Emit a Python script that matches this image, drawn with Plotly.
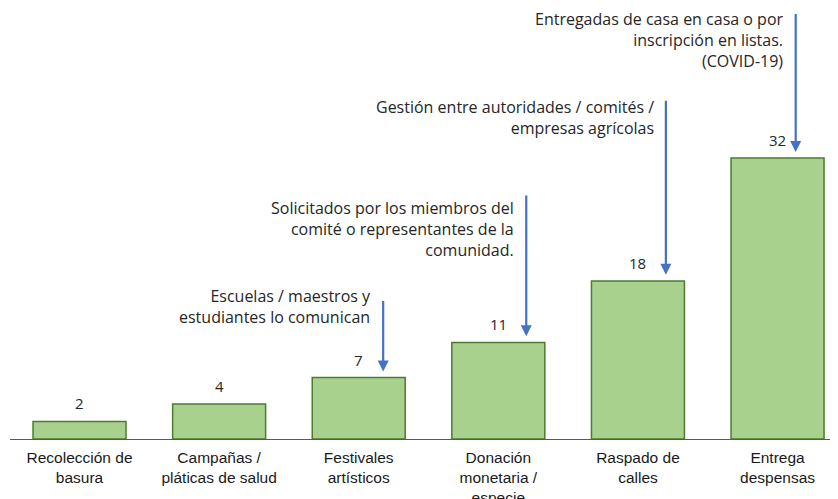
import plotly.graph_objects as go

# categories and counts
categories = [
    "Recolección de<br>basura",
    "Campañas /<br>pláticas de salud",
    "Festivales<br>artísticos",
    "Donación<br>monetaria /<br>especie",
    "Raspado de<br>calles",
    "Entrega<br>despensas",
]
counts = [2, 4, 7, 11, 18, 32]

# notes pointing at the last four bars
note_bars = [2, 3, 4, 5]
note_texts = [
    "Escuelas / maestros y<br>estudiantes lo comunican",
    "Solicitados por los miembros del<br>comité o representantes de la<br>comunidad.",
    "Gestión entre autoridades / comités /<br>empresas agrícolas",
    "Entregadas de casa en casa o por<br>inscripción en listas.<br>(COVID-19)",
]

# layout of the arrows (offset from bar centre, tail height, text centre height)
arrow_dx = [0.175, 0.2, 0.2, 0.13]
arrow_tail = [15.9, 27.9, 38.7, 48.6]
text_mid = [15.1, 23.9, 36.6, 45.4]

BAR_FILL = "#A9D18E"
BAR_LINE = "#4E7A31"
ARROW = "#4472C4"
NOTE_FONT = dict(family="Open Sans, Lato, sans-serif", size=16, color="#262626")

x_idx = list(range(len(categories)))

fig = go.Figure()
fig.add_trace(go.Bar(
    x=x_idx, y=counts, width=0.666,
    marker=dict(color=BAR_FILL, line=dict(color=BAR_LINE, width=1.5)),
    hoverinfo="skip",
))

# value labels above bars
for i, v in zip(x_idx, counts):
    fig.add_annotation(x=i, y=v, text=str(v), showarrow=False,
                       yanchor="bottom", yshift=6,
                       font=dict(family="Open Sans, sans-serif", size=15, color="#262626"))

# arrows and their notes
for b, txt, dx, tail, mid in zip(note_bars, note_texts, arrow_dx, arrow_tail, text_mid):
    xa = b + dx
    fig.add_annotation(x=xa, y=counts[b] + 0.7, ax=xa, ay=tail,
                       xref="x", yref="y", axref="x", ayref="y",
                       showarrow=True, arrowhead=2, arrowsize=1, arrowwidth=2.2,
                       arrowcolor=ARROW, text="")
    fig.add_annotation(x=xa, y=mid, text=txt, showarrow=False,
                       xanchor="right", yanchor="middle", align="right",
                       xshift=-10, font=NOTE_FONT)

# page body adds 8px on the top/left, margins allow for it
fig.update_layout(
    width=838, height=499,
    margin=dict(l=2, r=8, t=0, b=68),
    plot_bgcolor="white", paper_bgcolor="white",
    showlegend=False,
)
fig.update_xaxes(
    range=[-0.498, 5.433], automargin=False,
    tickmode="array", tickvals=x_idx, ticktext=categories,
    tickfont=dict(family="Liberation Sans, Arial, sans-serif", size=15.5, color="#1a1a1a"),
    ticklabelstandoff=4,
    showline=True, linecolor="#595959", linewidth=1.2,
    showgrid=False, zeroline=False, ticks="",
)
fig.update_yaxes(range=[0, 49.1], visible=False, automargin=False,
                 showgrid=False, zeroline=False)

fig.write_html("out.html")
